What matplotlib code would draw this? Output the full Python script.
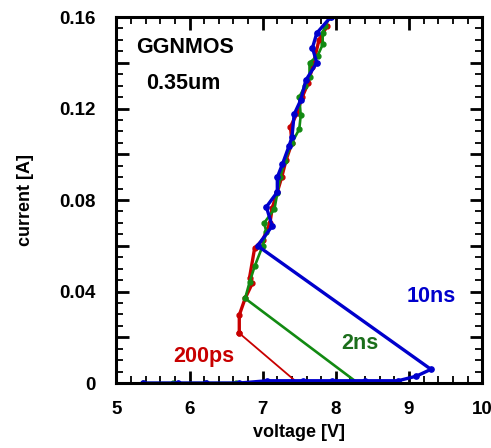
import matplotlib
matplotlib.use("Agg")
import matplotlib.pyplot as plt
from matplotlib.ticker import MultipleLocator, FuncFormatter

plt.rcParams['font.family'] = ['Liberation Sans', 'DejaVu Sans']
plt.rcParams['font.weight'] = 'bold'

# ---- data ----
# 10 ns pulse (blue)
v_10ns = [5.36, 5.84, 6.22, 6.68, 7.06, 7.55, 7.95, 8.40, 8.85, 9.10, 9.30,
          6.93, 7.13, 7.05, 7.20, 7.20, 7.27, 7.36, 7.40, 7.43, 7.52, 7.59,
          7.74, 7.68, 7.74, 7.93]
i_10ns = [0.0, 0.0, 0.0, 0.0, 0.001, 0.001, 0.001, 0.001, 0.001, 0.003, 0.006,
          0.060, 0.0686, 0.077, 0.0835, 0.090, 0.0957, 0.1036, 0.1075, 0.1175,
          0.1237, 0.1324, 0.140, 0.1465, 0.153, 0.160]

# 2 ns pulse (green)
v_2ns = [5.36, 5.77, 6.22, 6.64, 7.06, 7.50, 7.95, 8.30,
         6.76, 6.82, 6.89, 7.00, 7.05, 7.02, 7.16, 7.20, 7.24, 7.30, 7.40,
         7.50, 7.52, 7.50, 7.58, 7.64, 7.64, 7.75, 7.82, 7.82, 7.85, 7.92]
i_2ns = [0.0, 0.0, 0.0, 0.0, 0.0, 0.0, 0.0, 0.0,
         0.037, 0.044, 0.051, 0.060, 0.066, 0.070, 0.076, 0.083, 0.090, 0.097,
         0.105, 0.111, 0.117, 0.125, 0.130, 0.134, 0.140, 0.143, 0.148, 0.153,
         0.156, 0.160]

# 200 ps pulse (red)
v_200ps = [7.05, 7.48, 6.68, 6.68, 6.76, 6.86, 6.82, 6.89, 7.00, 7.10, 7.13,
           7.20, 7.26, 7.32, 7.40, 7.38, 7.47, 7.54, 7.62, 7.68, 7.77, 7.88]
i_200ps = [0.0, 0.0, 0.0218, 0.0297, 0.037, 0.0437, 0.046, 0.059, 0.0625,
           0.070, 0.0765, 0.0835, 0.090, 0.0975, 0.105, 0.112, 0.118, 0.125,
           0.131, 0.138, 0.150, 0.156]

c_blue = '#0000cc'
c_green = '#128a12'
c_red = '#c80000'

fig = plt.figure(figsize=(4.91, 4.48), dpi=100)
ax = fig.add_axes([0.237, 0.145, 0.745, 0.817])

# red: thin snapback jump, thick curve above
ax.plot(v_200ps[:3], i_200ps[:3], color=c_red, lw=1.3, marker='o', ms=3.5)
ax.plot(v_200ps[2:], i_200ps[2:], color=c_red, lw=2.4, marker='o', ms=3.5)
ax.plot(v_2ns, i_2ns, color=c_green, lw=1.9, marker='o', ms=3.5)
ax.plot(v_10ns, i_10ns, color=c_blue, lw=2.4, marker='o', ms=3.8)

ax.set_xlim(5, 10)
ax.set_ylim(0, 0.16)

ax.xaxis.set_major_locator(MultipleLocator(1))
ax.xaxis.set_minor_locator(MultipleLocator(0.2))
ax.yaxis.set_major_locator(MultipleLocator(0.02))
ax.yaxis.set_minor_locator(MultipleLocator(0.005))


def ylab(v, pos):
    k = int(round(v / 0.02))
    if k % 2:
        return ""
    if k == 0:
        return "0"
    return "%.2f" % v


ax.yaxis.set_major_formatter(FuncFormatter(ylab))
ax.xaxis.set_major_formatter(FuncFormatter(lambda v, p: "%d" % round(v)))

ax.tick_params(which='both', direction='in', top=True, right=True)
ax.tick_params(which='major', length=9, width=2)
ax.tick_params(which='minor', length=5, width=1.3)
ax.tick_params(axis='y', which='major', pad=15, labelsize=13.5)
ax.tick_params(axis='x', which='major', pad=13, labelsize=13.5)
for s in ax.spines.values():
    s.set_linewidth(2.2)

ax.set_xlabel("voltage [V]", fontsize=13, fontweight='bold', labelpad=4)
ax.set_ylabel("current [A]", fontsize=13, fontweight='bold', labelpad=18)

ax.text(5.27, 0.1465, "GGNMOS", fontsize=15.5, fontweight='bold', va='center')
ax.text(5.41, 0.131, "0.35um", fontsize=15.5, fontweight='bold', va='center')
ax.text(9.3, 0.038, "10ns", fontsize=15.5, fontweight='bold', color=c_blue,
        ha='center', va='center')
ax.text(8.33, 0.0175, "2ns", fontsize=15.5, fontweight='bold', color='#1b6e1b',
        ha='center', va='center')
ax.text(6.19, 0.0115, "200ps", fontsize=15.5, fontweight='bold', color=c_red,
        ha='center', va='center')

plt.savefig("out.png", dpi=100)
